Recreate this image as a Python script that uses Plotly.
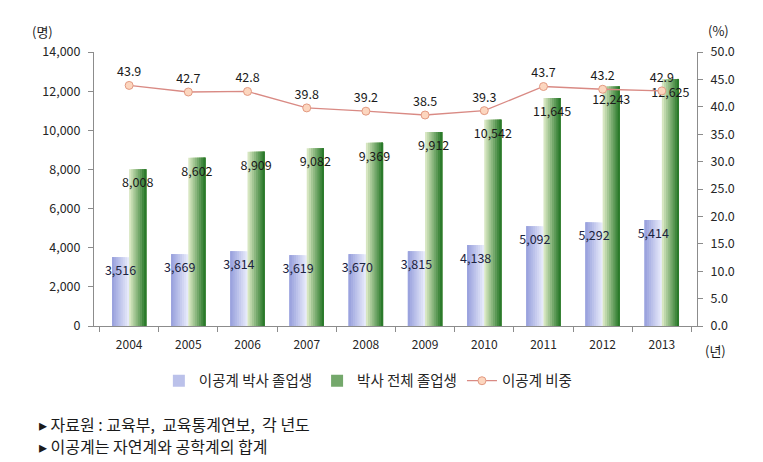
import plotly.graph_objects as go

years = ["2004", "2005", "2006", "2007", "2008", "2009", "2010", "2011", "2012", "2013"]
stem_phd = [3516, 3669, 3814, 3619, 3670, 3815, 4138, 5092, 5292, 5414]
all_phd = [8008, 8602, 8909, 9082, 9369, 9912, 10542, 11645, 12243, 12625]
stem_share = [43.9, 42.7, 42.8, 39.8, 39.2, 38.5, 39.3, 43.7, 43.2, 42.9]

name_stem = "이공계 박사 졸업생"
name_all = "박사 전체 졸업생"
name_share = "이공계 비중"

FONT = "Noto Sans CJK KR"
W = 0.29
N = 8


def lerp(c1, c2, t):
    a = [int(c1[i:i + 2], 16) for i in (1, 3, 5)]
    b = [int(c2[i:i + 2], 16) for i in (1, 3, 5)]
    return "#" + "".join(f"{round(a[j] + (b[j] - a[j]) * t):02x}" for j in range(3))


fig = go.Figure()

# blue series: light on right, darker toward left
for k in range(N):
    t = k / (N - 1)
    fig.add_trace(go.Bar(
        x=years, y=stem_phd, name=name_stem,
        offset=-W, width=W * (1 - k / N),
        marker=dict(color=lerp("#e6e9fa", "#9ba3de", t), line=dict(width=0)),
        showlegend=(k == N // 2), legendgroup="stem", hoverinfo="skip",
    ))

# green series: light on left, darker toward right
for k in range(N):
    t = k / (N - 1)
    fig.add_trace(go.Bar(
        x=years, y=all_phd, name=name_all,
        offset=W * k / N, width=W * (1 - k / N),
        marker=dict(color=lerp("#d6e6c0", "#2b7a2b", t), line=dict(width=0)),
        showlegend=(k == N // 2), legendgroup="all", hoverinfo="skip",
    ))

# value labels
fig.add_trace(go.Bar(
    x=years, y=stem_phd, offset=-W, width=W,
    marker=dict(color="rgba(0,0,0,0)", line=dict(width=0)),
    text=[f"{v:,}" for v in stem_phd], textposition="inside",
    insidetextanchor="end", textangle=0,
    textfont=dict(family=FONT, size=12.5, color="#1c2340"),
    showlegend=False, hoverinfo="skip", cliponaxis=False,
))
fig.add_trace(go.Bar(
    x=years, y=all_phd, offset=0, width=W,
    marker=dict(color="rgba(0,0,0,0)", line=dict(width=0)),
    text=[f"{v:,}" for v in all_phd], textposition="inside",
    insidetextanchor="end", textangle=0,
    textfont=dict(family=FONT, size=12.5, color="#1a1a1a"),
    showlegend=False, hoverinfo="skip", cliponaxis=False,
))

fig.add_trace(go.Scatter(
    x=years, y=stem_share, name=name_share, yaxis="y2",
    mode="lines+markers+text",
    line=dict(color="#d98a84", width=1.3),
    marker=dict(symbol="circle", size=8, color="#fcd6bf",
                line=dict(color="#e39a82", width=1)),
    text=[f"{v:.1f}" for v in stem_share], textposition="top center",
    textfont=dict(family=FONT, size=12.5, color="#1a1a1a"),
    cliponaxis=False,
))

axis_line = "#8c8c8c"
fig.update_layout(
    width=763, height=462,
    margin=dict(l=94, r=66, t=52, b=136),
    paper_bgcolor="white", plot_bgcolor="white",
    barmode="overlay",
    font=dict(family=FONT, size=12, color="#262626"),
    uniformtext=dict(minsize=12.5, mode="show"),
    xaxis=dict(
        type="category", tickson="boundaries", ticks="outside", ticklen=5,
        tickcolor=axis_line, showline=True, linecolor=axis_line, linewidth=1,
        showgrid=False, tickfont=dict(size=12), ticklabelstandoff=8,
    ),
    yaxis=dict(
        range=[0, 14000], dtick=2000, tickformat=",", ticks="outside",
        ticklen=5, tickcolor=axis_line, showline=True, linecolor=axis_line,
        showgrid=False, zeroline=False, tickfont=dict(size=12.5),
        ticklabelstandoff=5,
    ),
    yaxis2=dict(
        range=[0, 50], dtick=5, tickformat=".1f", overlaying="y", side="right",
        ticks="outside", ticklen=5, tickcolor=axis_line, showline=True,
        linecolor=axis_line, showgrid=False, zeroline=False,
        tickfont=dict(size=12.5), ticklabelstandoff=5,
    ),
    legend=dict(
        orientation="h", x=0.455, xanchor="center", y=-0.20, yanchor="middle",
        font=dict(size=14.5), bgcolor="rgba(0,0,0,0)", traceorder="normal",
    ),
    annotations=[
        dict(text="(명)", xref="paper", yref="paper", x=-0.0846, y=1.073,
             xanchor="center", yanchor="middle",
             showarrow=False, font=dict(size=13, color="#1a1a1a")),
        dict(text="(%)", xref="paper", yref="paper", x=1.035, y=1.080,
             xanchor="center", yanchor="middle",
             showarrow=False, font=dict(size=13, color="#1a1a1a")),
        dict(text="(년)", xref="paper", yref="paper", x=1.031, y=-0.0876,
             xanchor="center", yanchor="middle",
             showarrow=False, font=dict(size=13, color="#1a1a1a")),
        dict(text="▸ 자료원 : 교육부,  교육통계연보,  각 년도", xref="paper",
             yref="paper", x=-0.0945, y=-0.358, xanchor="left", yanchor="middle",
             showarrow=False, font=dict(size=16, color="#1a1a1a")),
        dict(text="▸ 이공계는 자연계와 공학계의 합계", xref="paper",
             yref="paper", x=-0.0945, y=-0.438, xanchor="left", yanchor="middle",
             showarrow=False, font=dict(size=16, color="#1a1a1a")),
    ],
)

fig.write_html("out.html")
